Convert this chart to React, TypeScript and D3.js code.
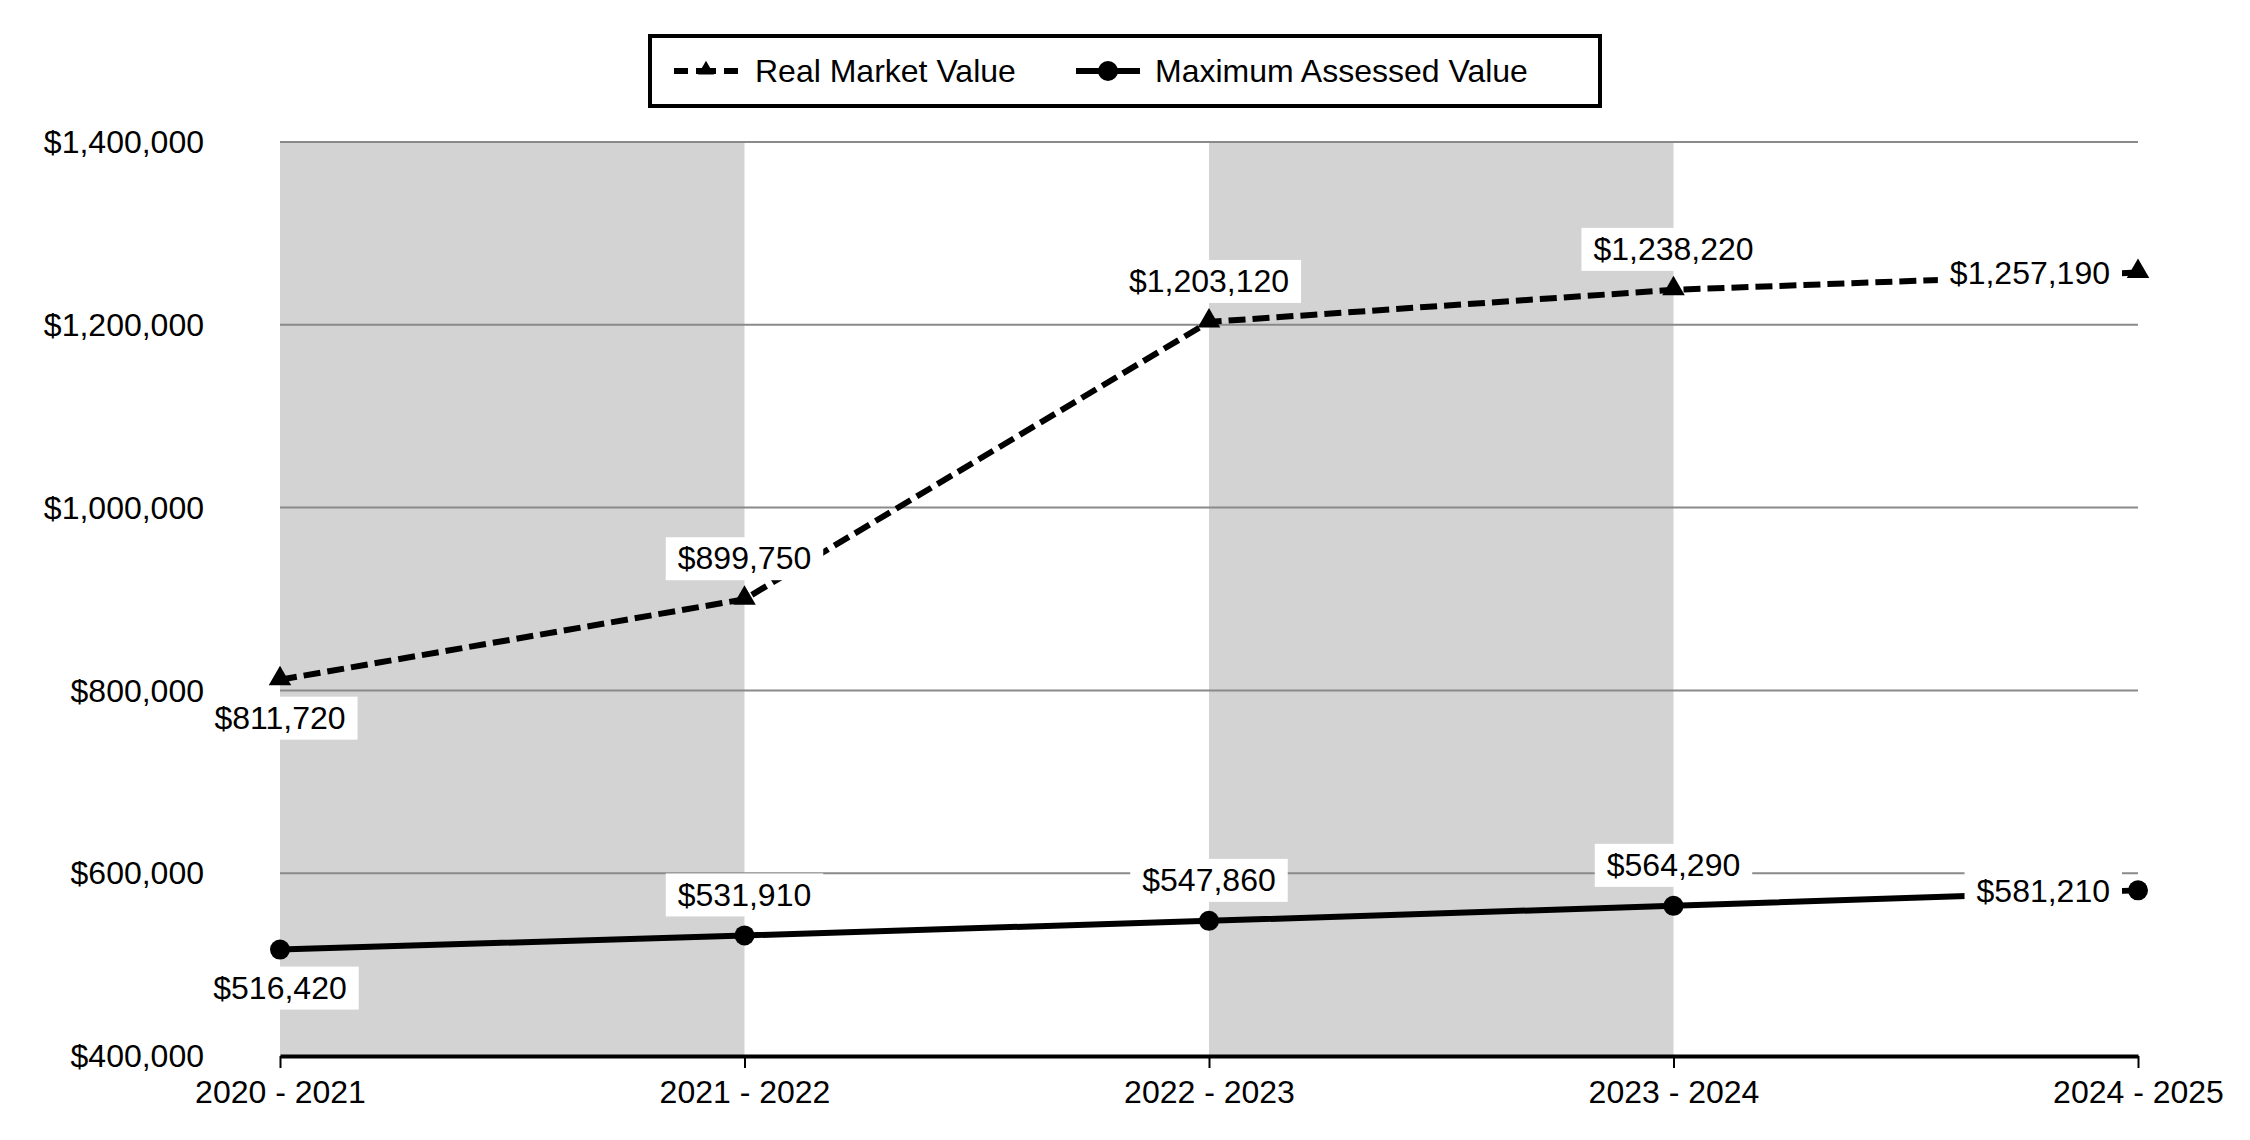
import React, { useEffect, useRef } from 'react'
import * as d3 from 'd3'

const years = ['2020 - 2021', '2021 - 2022', '2022 - 2023', '2023 - 2024', '2024 - 2025']
const realMarketValue = [811720, 899750, 1203120, 1238220, 1257190]
const maxAssessedValue = [516420, 531910, 547860, 564290, 581210]
const yTicks = [400000, 600000, 800000, 1000000, 1200000, 1400000]
const shadedBands = [
  ['2020 - 2021', '2021 - 2022'],
  ['2022 - 2023', '2023 - 2024']
]
const seriesNames = ['Real Market Value', 'Maximum Assessed Value']

const FONT = '"Liberation Sans", Arial, Helvetica, sans-serif'

export default function App() {
  const svgRef = useRef<SVGSVGElement | null>(null)

  useEffect(() => {
    document.body.style.margin = '0'
    if (!svgRef.current) {
      return
    }
    const width = 2250
    const height = 1140
    const margin = { top: 142, right: 112, bottom: 84, left: 280 }

    const svg = d3.select(svgRef.current)
    svg.selectAll('*').remove()
    svg.attr('viewBox', `0 0 ${width} ${height}`)

    const x = d3.scalePoint<string>().domain(years).range([margin.left, width - margin.right])
    const y = d3.scaleLinear().domain([400000, 1400000]).range([height - margin.bottom, margin.top])
    const money = (v: number) => '$' + d3.format(',')(v)

    svg.append('rect').attr('width', width).attr('height', height).attr('fill', '#ffffff')

    // alternating shaded columns
    svg
      .append('g')
      .selectAll('rect')
      .data(shadedBands)
      .enter()
      .append('rect')
      .attr('x', (d) => x(d[0]) ?? 0)
      .attr('y', y(1400000))
      .attr('width', (d) => (x(d[1]) ?? 0) - (x(d[0]) ?? 0))
      .attr('height', y(400000) - y(1400000))
      .attr('fill', '#d3d3d3')

    // gridlines
    svg
      .append('g')
      .selectAll('line')
      .data(yTicks.slice(1))
      .enter()
      .append('line')
      .attr('x1', margin.left)
      .attr('x2', width - margin.right)
      .attr('y1', (d) => y(d))
      .attr('y2', (d) => y(d))
      .attr('stroke', '#8a8a8a')
      .attr('stroke-width', 2)

    // y tick labels
    svg
      .append('g')
      .selectAll('text')
      .data(yTicks)
      .enter()
      .append('text')
      .attr('x', 204)
      .attr('y', (d) => y(d))
      .attr('dy', '0.35em')
      .attr('text-anchor', 'end')
      .attr('font-family', FONT)
      .attr('font-size', 32)
      .attr('fill', '#000')
      .text((d) => money(d))

    // x axis
    const xAxis = svg
      .append('g')
      .attr('transform', `translate(0,${y(400000)})`)
      .call(d3.axisBottom(x).tickSize(12).tickPadding(12).tickSizeOuter(0))
    xAxis.select('.domain').attr('stroke', '#000').attr('stroke-width', 4)
    xAxis.selectAll('.tick line').attr('stroke', '#000').attr('stroke-width', 2)
    xAxis
      .selectAll('.tick text')
      .attr('font-family', FONT)
      .attr('font-size', 32)
      .attr('fill', '#000')

    const line = d3
      .line<number>()
      .x((_, i) => x(years[i]) ?? 0)
      .y((d) => y(d))

    svg
      .append('path')
      .datum(realMarketValue)
      .attr('d', line)
      .attr('fill', 'none')
      .attr('stroke', '#000')
      .attr('stroke-width', 6)
      .attr('stroke-dasharray', '17 7')

    svg
      .append('path')
      .datum(maxAssessedValue)
      .attr('d', line)
      .attr('fill', 'none')
      .attr('stroke', '#000')
      .attr('stroke-width', 6)

    const triangle = d3.symbol().type(d3.symbolTriangle).size(220)
    const smallTriangle = d3.symbol().type(d3.symbolTriangle).size(110)

    svg
      .append('g')
      .selectAll('path')
      .data(realMarketValue)
      .enter()
      .append('path')
      .attr('d', triangle)
      .attr('transform', (d, i) => `translate(${x(years[i])},${y(d) - 1})`)
      .attr('fill', '#000')

    svg
      .append('g')
      .selectAll('circle')
      .data(maxAssessedValue)
      .enter()
      .append('circle')
      .attr('cx', (_, i) => x(years[i]) ?? 0)
      .attr('cy', (d) => y(d))
      .attr('r', 10)
      .attr('fill', '#000')

    // data labels with white boxes
    const drawLabels = (values: number[]) => {
      const g = svg.append('g')
      values.forEach((v, i) => {
        const px = x(years[i]) ?? 0
        const py = y(v)
        const last = i === values.length - 1
        const lg = g.append('g')
        const t = lg
          .append('text')
          .attr('font-family', FONT)
          .attr('font-size', 32)
          .attr('fill', '#000')
          .attr('dy', '0.35em')
          .text(money(v))
        let cx = px
        let cy = py
        if (last) {
          t.attr('text-anchor', 'end')
          cx = px - 28
          cy = py
        } else if (i === 0) {
          t.attr('text-anchor', 'middle')
          cy = py + 38
        } else {
          t.attr('text-anchor', 'middle')
          cy = py - 41
        }
        t.attr('x', cx).attr('y', cy)
        const box = (t.node() as SVGTextElement).getBBox()
        lg.insert('rect', 'text')
          .attr('x', box.x - 12)
          .attr('y', cy - 21)
          .attr('width', box.width + 24)
          .attr('height', 43)
          .attr('fill', '#ffffff')
      })
    }
    drawLabels(realMarketValue)
    drawLabels(maxAssessedValue)

    // legend
    const legend = svg.append('g')
    legend
      .append('rect')
      .attr('x', 650)
      .attr('y', 36)
      .attr('width', 950)
      .attr('height', 70)
      .attr('fill', '#fff')
      .attr('stroke', '#000')
      .attr('stroke-width', 4)

    const ly = 71
    legend
      .append('line')
      .attr('x1', 674)
      .attr('x2', 738)
      .attr('y1', ly)
      .attr('y2', ly)
      .attr('stroke', '#000')
      .attr('stroke-width', 6)
      .attr('stroke-dasharray', '14 8 20 8 14')
    legend
      .append('path')
      .attr('d', smallTriangle)
      .attr('transform', `translate(706,${ly - 1})`)
      .attr('fill', '#000')
    legend
      .append('text')
      .attr('x', 755)
      .attr('y', ly)
      .attr('dy', '0.35em')
      .attr('font-family', FONT)
      .attr('font-size', 32)
      .text(seriesNames[0])

    legend
      .append('line')
      .attr('x1', 1076)
      .attr('x2', 1140)
      .attr('y1', ly)
      .attr('y2', ly)
      .attr('stroke', '#000')
      .attr('stroke-width', 6)
    legend.append('circle').attr('cx', 1108).attr('cy', ly).attr('r', 10).attr('fill', '#000')
    legend
      .append('text')
      .attr('x', 1155)
      .attr('y', ly)
      .attr('dy', '0.35em')
      .attr('font-family', FONT)
      .attr('font-size', 32)
      .text(seriesNames[1])
  }, [])

  return <svg ref={svgRef} width={2250} height={1140} style={{ display: 'block' }} />
}
